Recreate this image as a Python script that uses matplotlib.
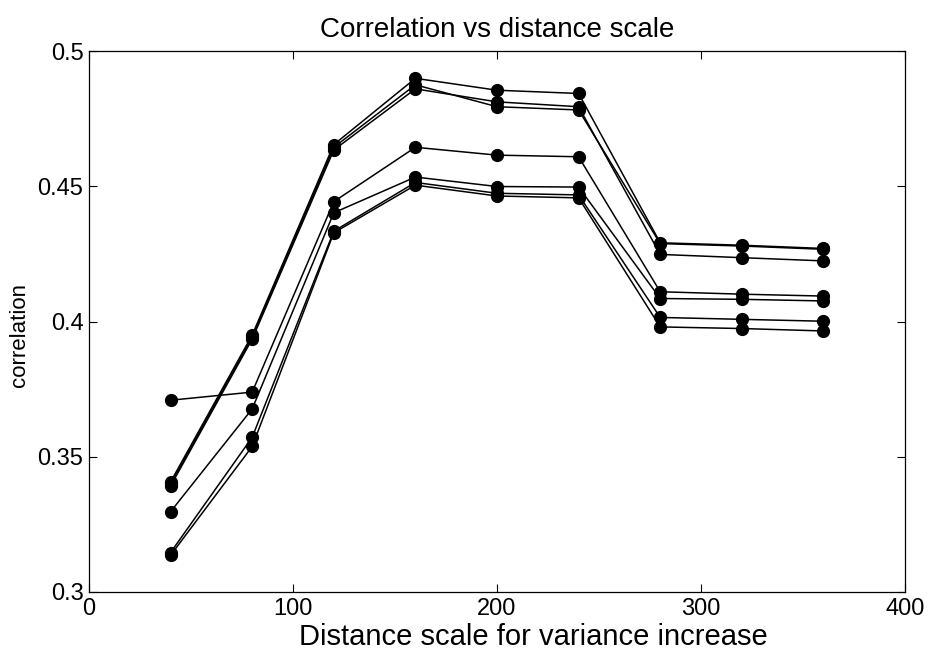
import matplotlib
matplotlib.use("Agg")
import matplotlib.pyplot as plt

plt.rcParams['font.family'] = ['Liberation Sans', 'DejaVu Sans']

x = [40, 80, 120, 160, 200, 240, 280, 320, 360]

series_t1 = [0.3407, 0.3950, 0.4654, 0.4899, 0.4855, 0.4843, 0.4291, 0.4282, 0.4270]
series_t2 = [0.3399, 0.3942, 0.4644, 0.4875, 0.4794, 0.4782, 0.4288, 0.4279, 0.4267]
series_t3 = [0.3392, 0.3935, 0.4634, 0.4860, 0.4812, 0.4794, 0.4248, 0.4236, 0.4224]
series_m = [0.3709, 0.3739, 0.4443, 0.4644, 0.4615, 0.4609, 0.4110, 0.4101, 0.4094]
series_l1 = [0.3297, 0.3677, 0.4402, 0.4534, 0.4499, 0.4497, 0.4085, 0.4082, 0.4076]
series_l2 = [0.3146, 0.3572, 0.4334, 0.4514, 0.4474, 0.4468, 0.4015, 0.4008, 0.4001]
series_l3 = [0.3136, 0.3538, 0.4328, 0.4504, 0.4464, 0.4457, 0.3980, 0.3974, 0.3965]

all_series = [series_t1, series_t2, series_t3, series_m, series_l1, series_l2, series_l3]

xticks = [0, 100, 200, 300, 400]
xtick_labels = ['0', '100', '200', '300', '400']
yticks = [0.3, 0.35, 0.4, 0.45, 0.5]
ytick_labels = ['0.3', '0.35', '0.4', '0.45', '0.5']

fig = plt.figure(figsize=(9.34, 6.53), dpi=100)
ax = fig.add_axes([89/934, 61/653, (905-89)/934, (592-51)/653])

for s in all_series:
    ax.plot(x, s, color='black', linewidth=1.1, marker='o', markersize=8.5,
            markerfacecolor='black', markeredgecolor='black')

ax.set_xlim(0, 400)
ax.set_ylim(0.3, 0.5)
ax.set_xticks(xticks)
ax.set_xticklabels(xtick_labels)
ax.set_yticks(yticks)
ax.set_yticklabels(ytick_labels)
ax.tick_params(direction='in', top=True, right=True, length=6, width=0.8,
               labelsize=17, pad=4)
for sp in ax.spines.values():
    sp.set_linewidth(0.9)

ax.set_title('Correlation vs distance scale', fontsize=20, pad=10)
ax.set_xlabel('Distance scale for variance increase', fontsize=21)
ax.xaxis.set_label_coords(0.545, -0.057)
ax.set_ylabel('correlation', fontsize=16)
ax.yaxis.set_label_coords(-0.072, 0.475)

fig.savefig('out.png', dpi=100, facecolor='white')
